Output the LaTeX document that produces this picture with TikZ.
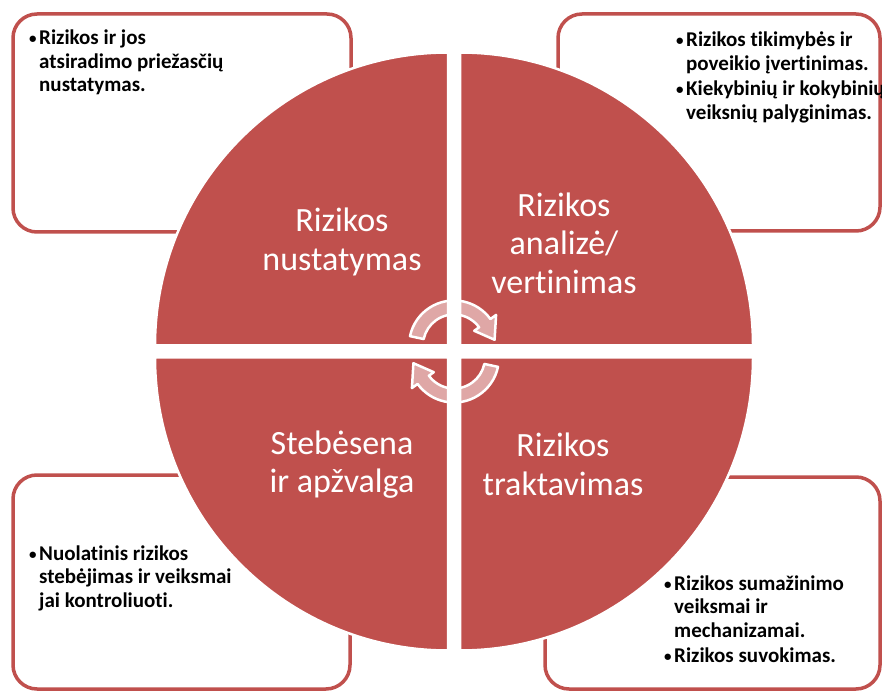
\documentclass[tikz,border=0pt]{standalone}
\usepackage{fontspec}
\setmainfont{Carlito}[Ligatures=NoCommon]
\definecolor{riskred}{HTML}{C0504D}
% bullet cell for the note lists
\newcommand{\nb}{\makebox[10pt][l]{\fontsize{15}{15}\selectfont\raisebox{1pt}{•}}}
\begin{document}
\begin{tikzpicture}[x=1pt,y=1pt,
  infobox/.style={draw=riskred, line width=3.5pt, fill=white, rounded corners=24pt},
  quadrant/.style={fill=riskred, draw=white, line width=2.5pt, line join=round},
  phase/.style={text=white, align=center, inner sep=0pt,
    font=\fontsize{34}{38.5}\selectfont},
  note/.style={anchor=base west, inner sep=0pt, text=black,
    font=\fontsize{21}{23.5}\selectfont\bfseries},
  cyclearrow/.style={draw=white, line width=2.5pt, fill=white, fill opacity=0.5,
    line join=round}]
\useasboundingbox (0,0) rectangle (882,691);

% note boxes behind the circle
\draw[infobox] (13,677) rectangle (351,459);
\draw[infobox] (558,677) rectangle (880,460);
\draw[infobox] (13,216) rectangle (350,2);
\draw[infobox] (545,214) rectangle (880,2);

% four quarter discs
\draw[quadrant] (448,345.5) -- ++(-293,0) arc[start angle=180, end angle=90, radius=293pt] -- cycle;
\draw[quadrant] (460,345.5) -- ++(0,293) arc[start angle=90, end angle=0, radius=293pt] -- cycle;
\draw[quadrant] (448,333.5) -- ++(0,-293) arc[start angle=270, end angle=180, radius=293pt] -- cycle;
\draw[quadrant] (460,333.5) -- ++(293,0) arc[start angle=0, end angle=-90, radius=293pt] -- cycle;

% circular arrows in the middle
\begin{scope}[shift={(454,345.5)}]
  \path[cyclearrow] (168:45pt) arc[start angle=168, end angle=36, radius=45pt]
    -- (36:52pt) -- (8:41pt) -- (36:25pt) -- (36:31pt)
    arc[start angle=36, end angle=168, radius=31pt] -- cycle;
\end{scope}
\begin{scope}[shift={(454,333.5)}, rotate=180]
  \path[cyclearrow] (168:45pt) arc[start angle=168, end angle=36, radius=45pt]
    -- (36:52pt) -- (8:41pt) -- (36:25pt) -- (36:31pt)
    arc[start angle=36, end angle=168, radius=31pt] -- cycle;
\end{scope}

% phase titles
\node[phase] (identify) at (342,449) {Rizikos\\nustatymas};
\node[phase] (analyse) at (564,448) {Rizikos\\analizė/\\vertinimas};
\node[phase] (monitor) at (342,226.5) {Stebėsena\\ir apžvalga};
\node[phase] (treat) at (563,226.5) {Rizikos\\traktavimas};

% notes
\node[note] (identifynote) at (29,646) {\begin{tabular}[t]{@{}l@{}l@{}}
  \nb & Rizikos ir jos\\
      & atsiradimo priežasčių\\
      & nustatymas.
\end{tabular}};
\node[note] (analysenote) at (676,644.3) {\begin{tabular}[t]{@{}l@{}l@{}}
  \nb & Rizikos tikimybės ir\\
      & poveikio įvertinimas.\\[2pt]
  \nb & Kiekybinių ir kokybinių\\
      & veiksnių palyginimas.
\end{tabular}};
\node[note] (monitornote) at (29,131) {\begin{tabular}[t]{@{}l@{}l@{}}
  \nb & Nuolatinis rizikos\\
      & stebėjimas ir veiksmai\\
      & jai kontroliuoti.
\end{tabular}};
\node[note] (treatnote) at (664,101) {\begin{tabular}[t]{@{}l@{}l@{}}
  \nb & Rizikos sumažinimo\\
      & veiksmai ir\\
      & mechanizamai.\\[2pt]
  \nb & Rizikos suvokimas.
\end{tabular}};
\end{tikzpicture}
\end{document}
